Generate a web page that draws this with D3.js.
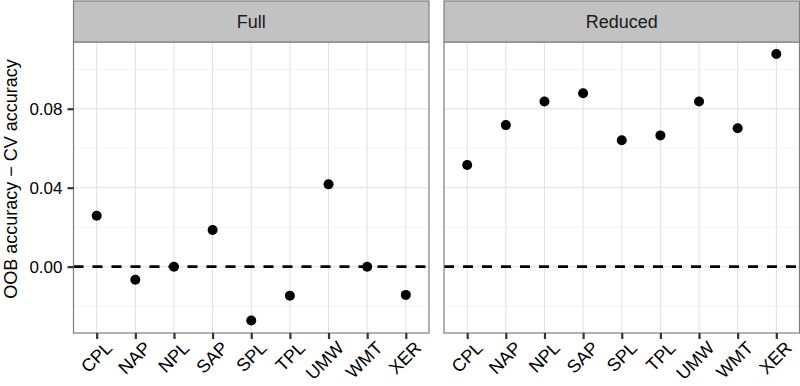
<!DOCTYPE html>
<html>
<head>
<meta charset="utf-8">
<script src="https://cdn.jsdelivr.net/npm/d3@7"></script>
<style>
  body { margin: 0; background: #fff; }
  text { font-family: "Liberation Sans", Arial, Helvetica, sans-serif; }
</style>
</head>
<body>
<div id="chart"></div>
<script>
const categories = ["CPL", "NAP", "NPL", "SAP", "SPL", "TPL", "UMW", "WMT", "XER"];
const facets = ["Full", "Reduced"];
const fullValues = [0.0258, -0.0066, 0.0, 0.0186, -0.0273, -0.0147, 0.0417, 0.0, -0.0143];
const reducedValues = [0.0515, 0.0717, 0.0837, 0.0878, 0.064, 0.0665, 0.0837, 0.0701, 0.1077];
const yTicks = [0.00, 0.04, 0.08];
const yMinor = [-0.02, 0.02, 0.06, 0.10];

const width = 800, height = 386;
const stripH = 41;
const stripTop = 1, panelBottom = 333;
const panels = [
  { name: facets[0], values: fullValues, x0: 73.5, x1: 429 },
  { name: facets[1], values: reducedValues, x0: 444, x1: 799.5 }
];

const svg = d3.select("#chart").append("svg")
  .attr("width", width)
  .attr("height", height);

const y = d3.scaleLinear()
  .domain([-0.0336, 0.1138])
  .range([panelBottom, stripTop + stripH]);

panels.forEach((p, pi) => {
  const x = d3.scalePoint()
    .domain(categories)
    .range([p.x0, p.x1])
    .padding(0.6);

  const g = svg.append("g");

  // panel background
  g.append("rect")
    .attr("x", p.x0).attr("y", stripTop + stripH)
    .attr("width", p.x1 - p.x0).attr("height", panelBottom - stripTop - stripH)
    .attr("fill", "#fff");

  // minor grid
  g.selectAll(".minor")
    .data(yMinor)
    .join("line")
    .attr("x1", p.x0).attr("x2", p.x1)
    .attr("y1", d => y(d)).attr("y2", d => y(d))
    .attr("stroke", "#f2f2f2").attr("stroke-width", 1);

  // major grid
  g.selectAll(".majorY")
    .data(yTicks)
    .join("line")
    .attr("x1", p.x0).attr("x2", p.x1)
    .attr("y1", d => y(d)).attr("y2", d => y(d))
    .attr("stroke", "#e0e0e0").attr("stroke-width", 1);

  g.selectAll(".majorX")
    .data(categories)
    .join("line")
    .attr("x1", d => x(d)).attr("x2", d => x(d))
    .attr("y1", stripTop + stripH).attr("y2", panelBottom)
    .attr("stroke", "#e0e0e0").attr("stroke-width", 1);

  // dashed zero line
  g.append("line")
    .attr("x1", p.x0).attr("x2", p.x1)
    .attr("y1", y(0)).attr("y2", y(0))
    .attr("stroke", "#000").attr("stroke-width", 2.6)
    .attr("stroke-dasharray", "10,9");

  // points
  g.selectAll("circle")
    .data(p.values.map((v, i) => ({ cat: categories[i], v })))
    .join("circle")
    .attr("cx", d => x(d.cat))
    .attr("cy", d => y(d.v))
    .attr("r", 5)
    .attr("fill", "#000");

  // panel border
  g.append("rect")
    .attr("x", p.x0).attr("y", stripTop + stripH)
    .attr("width", p.x1 - p.x0).attr("height", panelBottom - stripTop - stripH)
    .attr("fill", "none").attr("stroke", "#7f7f7f").attr("stroke-width", 1.2);

  // strip
  g.append("rect")
    .attr("x", p.x0).attr("y", stripTop)
    .attr("width", p.x1 - p.x0).attr("height", stripH)
    .attr("fill", "#c2c2c2").attr("stroke", "#7f7f7f").attr("stroke-width", 1.2);
  g.append("text")
    .attr("x", (p.x0 + p.x1) / 2).attr("y", stripTop + stripH / 2)
    .attr("text-anchor", "middle").attr("dy", "0.35em")
    .attr("font-size", 18).attr("fill", "#1a1a1a")
    .text(p.name);

  // x axis
  const xAxis = svg.append("g")
    .attr("transform", `translate(0,${panelBottom})`)
    .call(d3.axisBottom(x).tickSize(6).tickPadding(4).tickSizeOuter(0));
  xAxis.select(".domain").remove();
  xAxis.selectAll(".tick line").attr("stroke", "#333").attr("stroke-width", 2.2);
  xAxis.selectAll(".tick text")
    .attr("font-size", 18).attr("fill", "#000")
    .attr("text-anchor", "end")
    .attr("dy", null)
    .attr("transform", "translate(7,7) rotate(-45)")
    .attr("y", 0).attr("x", 0)
    .attr("dominant-baseline", "hanging");

  if (pi === 0) {
    const yAxis = svg.append("g")
      .attr("transform", `translate(${p.x0},0)`)
      .call(d3.axisLeft(y).tickValues(yTicks).tickFormat(d3.format(".2f")).tickSize(6).tickPadding(5));
    yAxis.select(".domain").remove();
    yAxis.selectAll(".tick line").attr("stroke", "#333").attr("stroke-width", 2.2);
    yAxis.selectAll(".tick text").attr("font-size", 17).attr("fill", "#000");
  }
});

// y axis title
svg.append("text")
  .attr("transform", `translate(11,179) rotate(-90)`)
  .attr("text-anchor", "middle").attr("dy", "0.35em")
  .attr("font-size", 18).attr("fill", "#000")
  .text("OOB accuracy \u2212 CV accuracy");
</script>
</body>
</html>
